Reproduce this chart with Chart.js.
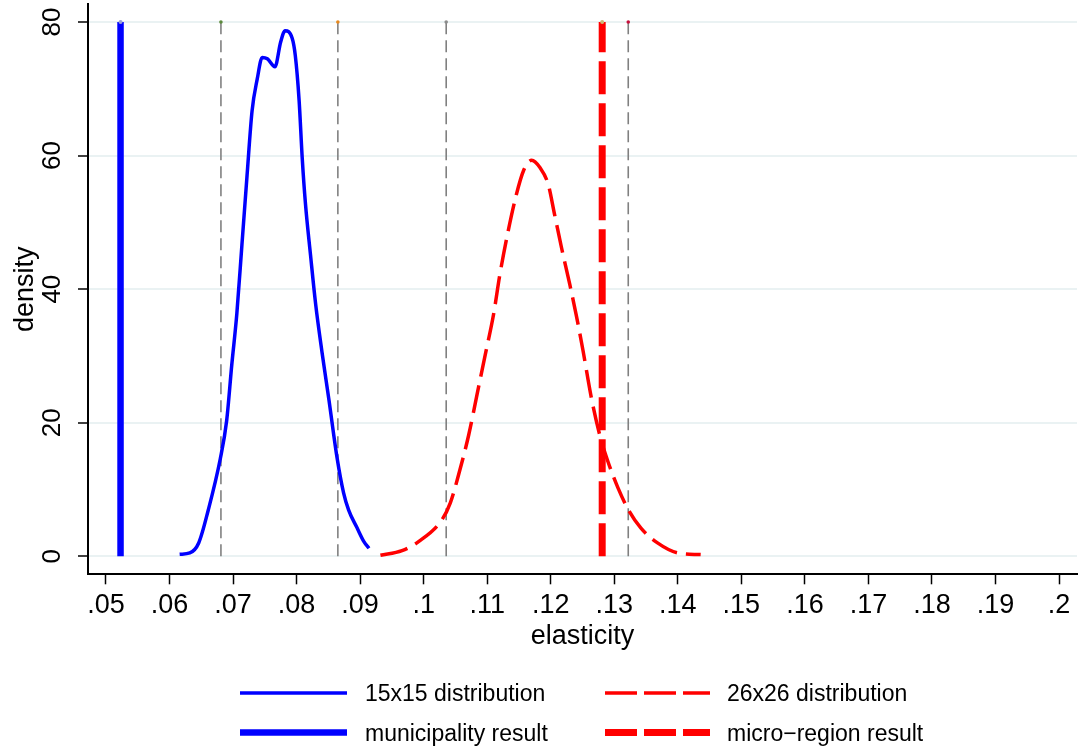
<!DOCTYPE html>
<html>
<head>
<meta charset="utf-8">
<title>elasticity density</title>
<script src="https://cdn.jsdelivr.net/npm/chart.js@4.4.1/dist/chart.umd.min.js"></script>
<style>
  html, body { margin: 0; padding: 0; background: #fff; }
  #wrap { width: 1081px; height: 751px; position: relative; }
</style>
</head>
<body>
<div id="wrap"><canvas id="chart"></canvas></div>
<script>
// === DATA ===
const xTicks = [0.05, 0.06, 0.07, 0.08, 0.09, 0.10, 0.11, 0.12, 0.13, 0.14, 0.15, 0.16, 0.17, 0.18, 0.19, 0.20];
const xTickLabels = [".05", ".06", ".07", ".08", ".09", ".1", ".11", ".12", ".13", ".14", ".15", ".16", ".17", ".18", ".19", ".2"];
const yTicks = [0, 20, 40, 60, 80];
const yTickLabels = ["0", "20", "40", "60", "80"];

// 15x15 distribution (kernel density)
const blueX = [0.0616, 0.0632, 0.0646, 0.0661, 0.0680, 0.0690, 0.0698, 0.0706, 0.0714, 0.0722, 0.0730, 0.0738,
               0.0746, 0.0754, 0.0766, 0.0775, 0.0782, 0.0793, 0.0798, 0.0804, 0.0809, 0.0814, 0.0822, 0.0830,
               0.0840, 0.0851, 0.0864, 0.0874, 0.0882, 0.0895, 0.0906, 0.0914];
const blueY = [0.3, 0.5, 2.0, 6.9, 14.6, 20.3, 28.6, 36.3, 46.6, 56.9, 66.7, 71.4,
               74.7, 74.5, 73.3, 77.0, 78.7, 77.6, 75.0, 68.3, 59.5, 52.8, 45.1, 37.8,
               30.6, 23.4, 14.6, 9.5, 6.9, 4.3, 2.2, 1.2];

// 26x26 distribution (kernel density)
const redX = [0.0932, 0.0966, 0.0992, 0.1029, 0.1042, 0.1055, 0.1071, 0.1084, 0.1097, 0.1110, 0.1120,
              0.1133, 0.1146, 0.1157, 0.1170, 0.1183, 0.1196, 0.1206, 0.1217, 0.1230, 0.1240, 0.1251,
              0.1264, 0.1277, 0.1290, 0.1306, 0.1322, 0.1342, 0.1368, 0.1400, 0.1436];
const redY = [0.15, 0.85, 2.2, 5.5, 8.0, 12.2, 18.2, 24.2, 30.2, 36.2, 42.2,
              48.7, 54.2, 57.7, 59.3, 58.2, 55.7, 51.2, 46.2, 40.7, 36.2, 30.7,
              23.7, 18.2, 14.2, 10.2, 7.0, 4.2, 2.0, 0.5, 0.25];

// point estimates
const municipalityX = 0.0523;
const microRegionX = 0.1281;
// dashed reference lines (percentiles)
const refLinesX = [0.0681, 0.0865, 0.10355, 0.1322];
const refLineDots = ["#5b8a3c", "#e8891e", "#8c8c8c", "#c8103c"];
const lineBottom = 0;
const lineTop = 80;

// === BUILD DATASETS ===
const toPoints = (xs, ys) => xs.map((x, i) => ({ x: x, y: ys[i] }));
const vline = x => [{ x: x, y: lineBottom }, { x: x, y: lineTop }];

const datasets = [
    {
        label: "15x15 distribution",
        data: toPoints(blueX, blueY),
        borderColor: "#0000ff",
        borderWidth: 3.5,
        cubicInterpolationMode: "monotone",
        pointRadius: 0,
        order: 5,
        legendSlot: [0, 0]
    },
    {
        label: "26x26 distribution",
        data: toPoints(redX, redY),
        borderColor: "#ff0000",
        borderWidth: 3.5,
        borderDash: [28, 9],
        cubicInterpolationMode: "monotone",
        pointRadius: 0,
        order: 5,
        legendSlot: [1, 0],
        legendDash: [32, 7]
    },
    {
        label: "municipality result",
        data: vline(municipalityX),
        borderColor: "#0000ff",
        borderWidth: 6.5,
        pointRadius: [0, 2],
        pointBorderWidth: 0,
        pointBackgroundColor: "#9aa0d8",
        order: 1,
        legendSlot: [0, 1]
    },
    {
        label: "micro-region result",
        data: vline(microRegionX),
        borderColor: "#ff0000",
        borderWidth: 7,
        borderDash: [33, 9],
        pointRadius: [0, 2],
        pointBorderWidth: 0,
        pointBackgroundColor: "#cdbb78",
        order: 1,
        legendSlot: [1, 1],
        legendDash: [32, 7]
    }
];

refLinesX.forEach((x, i) => {
    datasets.push({
        label: "ref " + i,
        data: vline(x),
        borderColor: "#808080",
        borderWidth: 1.6,
        borderDash: [12, 6],
        pointRadius: [0, 1.8],
        pointBorderWidth: 0,
        pointBackgroundColor: refLineDots[i],
        order: 10
    });
});

const FONT = '"Liberation Sans", Arial, Helvetica, sans-serif';

// y tick labels are rotated in the reference (Stata style)
const yRotatedLabels = {
    id: "yRotatedLabels",
    afterDraw(chart) {
        const ctx = chart.ctx;
        const yScale = chart.scales.y;
        ctx.save();
        ctx.font = "26px " + FONT;
        ctx.fillStyle = "#000";
        ctx.textAlign = "center";
        ctx.textBaseline = "alphabetic";
        yTicks.forEach((v, i) => {
            const py = yScale.getPixelForValue(v);
            ctx.save();
            ctx.translate(yScale.right - 28, py);
            ctx.rotate(-Math.PI / 2);
            ctx.fillText(yTickLabels[i], 0, 0);
            ctx.restore();
        });
        ctx.restore();
    }
};

// two-column legend below the plot
const twoColLegend = {
    id: "twoColLegend",
    afterDraw(chart) {
        const ctx = chart.ctx;
        const cols = [{ x0: 240, x1: 347, tx: 365 }, { x0: 605, x1: 710, tx: 727 }];
        const rows = [{ ly: 693, ty: 695 }, { ly: 732.5, ty: 735 }];
        ctx.save();
        chart.data.datasets.forEach(ds => {
            if (!ds.legendSlot) return;
            const c = cols[ds.legendSlot[0]];
            const r = rows[ds.legendSlot[1]];
            ctx.beginPath();
            ctx.strokeStyle = ds.borderColor;
            ctx.lineWidth = ds.borderWidth;
            ctx.setLineDash(ds.legendDash || []);
            ctx.moveTo(c.x0, r.ly);
            ctx.lineTo(c.x1, r.ly);
            ctx.stroke();
            ctx.setLineDash([]);
            ctx.font = "23px " + FONT;
            ctx.fillStyle = "#000";
            ctx.textAlign = "left";
            ctx.textBaseline = "middle";
            ctx.fillText(ds.label.replace("-", "\u2212"), c.tx, r.ty);
        });
        ctx.restore();
    }
};

new Chart(document.getElementById("chart"), {
    type: "line",
    data: { datasets: datasets },
    options: {
        responsive: true,
        maintainAspectRatio: false,
        animation: false,
        devicePixelRatio: 1,
        layout: { padding: { left: 0, right: 0, top: 3, bottom: 104.8 } },
        plugins: {
            legend: { display: false },
            tooltip: { enabled: false }
        },
        scales: {
            x: {
                type: "linear",
                min: 0.04718,
                max: 0.20282,
                afterBuildTicks: axis => { axis.ticks = xTicks.map(v => ({ value: v })); },
                ticks: {
                    autoSkip: false,
                    maxRotation: 0,
                    padding: 8,
                    color: "#000",
                    font: { family: FONT, size: 27, lineHeight: 1.0 },
                    callback: (value, index) => xTickLabels[index]
                },
                grid: {
                    drawOnChartArea: false,
                    drawTicks: true,
                    tickLength: 10,
                    tickColor: "#000",
                    tickWidth: 1.5
                },
                border: { display: true, color: "#000", width: 2 },
                title: {
                    display: true,
                    text: "elasticity",
                    color: "#000",
                    font: { family: FONT, size: 27, lineHeight: 0.7 },
                    padding: { top: 0, bottom: 0 }
                }
            },
            y: {
                type: "linear",
                min: -2.697,
                max: 82.697,
                afterBuildTicks: axis => { axis.ticks = yTicks.map(v => ({ value: v })); },
                ticks: { display: false },
                grid: {
                    drawOnChartArea: true,
                    color: "#eaf2f3",
                    lineWidth: 2,
                    drawTicks: true,
                    tickLength: 10,
                    tickColor: "#000",
                    tickWidth: 1.5
                },
                border: { display: true, color: "#000", width: 2 },
                title: {
                    display: true,
                    text: "density",
                    color: "#000",
                    font: { family: FONT, size: 27, lineHeight: 1.2 },
                    padding: { top: 9, bottom: 36.6 }
                }
            }
        }
    },
    plugins: [yRotatedLabels, twoColLegend]
});
</script>
</body>
</html>
